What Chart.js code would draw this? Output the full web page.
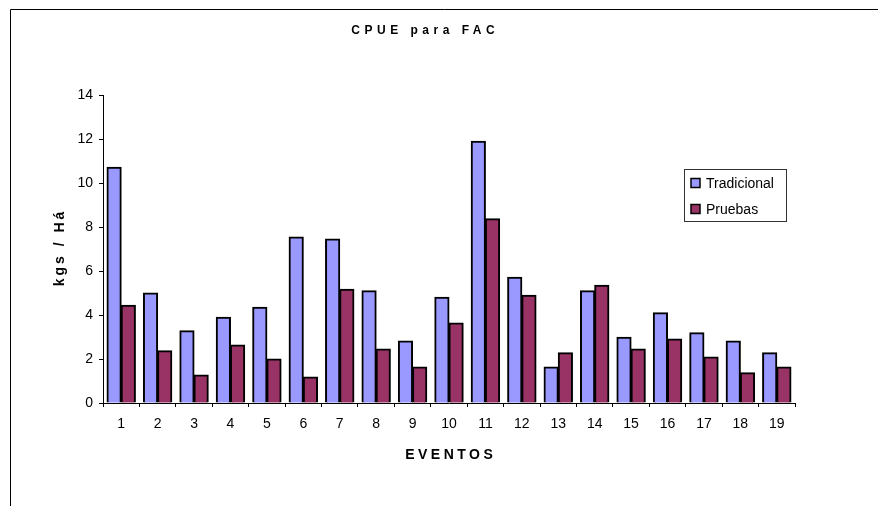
<!DOCTYPE html>
<html>
<head>
<meta charset="utf-8">
<script src="https://cdn.jsdelivr.net/npm/chart.js@4.4.1/dist/chart.umd.min.js"></script>
<style>
  html, body { margin: 0; padding: 0; background: #fff; }
  #wrap { width: 878px; height: 506px; position: relative; }
</style>
</head>
<body>
<div id="wrap"><canvas id="c" width="878" height="506"></canvas></div>
<script>
const categories = ['1','2','3','4','5','6','7','8','9','10','11','12','13','14','15','16','17','18','19'];
const tradicional = [10.72, 5.0, 3.28, 3.9, 4.35, 7.55, 7.45, 5.1, 2.82, 4.81, 11.9, 5.72, 1.64, 5.1, 2.99, 4.1, 3.19, 2.82, 2.28];
const pruebas = [4.44, 2.37, 1.27, 2.64, 2.0, 1.18, 5.17, 2.46, 1.64, 3.64, 8.37, 4.9, 2.28, 5.35, 2.46, 2.91, 2.09, 1.37, 1.64];
const seriesNames = ['Tradicional', 'Pruebas'];
const chartTitle = 'CPUE para FAC';
const xTitle = 'EVENTOS';
const yTitle = 'kgs / Há';

const FONT = "'Liberation Sans', Arial, sans-serif";

function spacedText(ctx, text, x, y, spacing) {
  if ('letterSpacing' in ctx) {
    ctx.letterSpacing = spacing + 'px';
    const w = ctx.measureText(text).width - spacing;
    ctx.textAlign = 'left';
    ctx.fillText(text, x - w / 2, y);
    ctx.letterSpacing = '0px';
  } else {
    ctx.textAlign = 'center';
    ctx.fillText(text, x, y);
  }
}

const framePlugin = {
  id: 'frame',
  beforeDraw(chart) {
    const ctx = chart.ctx;
    ctx.save();
    ctx.fillStyle = '#fff';
    ctx.fillRect(0, 0, chart.width, chart.height);
    ctx.strokeStyle = '#000';
    ctx.lineWidth = 1;
    ctx.beginPath();
    ctx.moveTo(10.5, chart.height);
    ctx.lineTo(10.5, 9.5);
    ctx.lineTo(chart.width, 9.5);
    ctx.stroke();
    ctx.fillStyle = '#000';
    ctx.textBaseline = 'middle';
    // chart title
    ctx.font = 'bold 12px ' + FONT;
    spacedText(ctx, chartTitle, 423, 31, 4.5);
    // x axis title
    const ca = chart.chartArea;
    ctx.font = 'bold 14px ' + FONT;
    spacedText(ctx, xTitle, (ca.left + ca.right) / 2, 455, 3.5);
    // y axis title
    ctx.save();
    ctx.translate(60, (ca.top + ca.bottom) / 2);
    ctx.rotate(-Math.PI / 2);
    ctx.font = 'bold 14px ' + FONT;
    spacedText(ctx, yTitle, 0, 0, 3);
    ctx.restore();
    ctx.restore();
  },
  afterDraw(chart) {
    const ctx = chart.ctx;
    ctx.save();
    const x0 = 684, y0 = 169, w = 102, h = 52;
    ctx.fillStyle = '#fff';
    ctx.fillRect(x0, y0, w, h);
    ctx.strokeStyle = '#333';
    ctx.lineWidth = 1;
    ctx.strokeRect(x0 + 0.5, y0 + 0.5, w, h);
    ctx.font = '14px ' + FONT;
    ctx.textAlign = 'left';
    ctx.textBaseline = 'middle';
    chart.data.datasets.forEach((ds, i) => {
      const cy = 183 + i * 26;
      ctx.fillStyle = ds.backgroundColor;
      ctx.fillRect(691, cy - 4.5, 9, 9);
      ctx.strokeStyle = '#000';
      ctx.lineWidth = 1.5;
      ctx.strokeRect(691, cy - 4.5, 9, 9);
      ctx.fillStyle = '#000';
      ctx.fillText(ds.label, 706, cy + 1);
    });
    ctx.restore();
  }
};

new Chart(document.getElementById('c'), {
  type: 'bar',
  data: {
    labels: categories,
    datasets: [
      { label: seriesNames[0], data: tradicional, backgroundColor: '#9999FF', borderColor: '#000', borderWidth: 2, inflateAmount: 0.5 },
      { label: seriesNames[1], data: pruebas, backgroundColor: '#993366', borderColor: '#000', borderWidth: 2, inflateAmount: 0.5 }
    ]
  },
  options: {
    responsive: false,
    animation: false,
    devicePixelRatio: 1,
    categoryPercentage: 0.78,
    barPercentage: 1.0,
    layout: { padding: { left: 40, top: 95, right: 83, bottom: 43 } },
    plugins: {
      legend: { display: false },
      title: { display: false },
      tooltip: { enabled: false }
    },
    scales: {
      x: {
        grid: { offset: true, drawOnChartArea: false, drawTicks: true, tickLength: 4, color: '#000' },
        border: { display: true, color: '#000', width: 1 },
        ticks: { color: '#000', font: { family: FONT, size: 14 }, padding: 9, maxRotation: 0 },
        title: { display: false },
        afterFit(scale) { scale.height = 60; }
      },
      y: {
        min: 0, max: 14,
        ticks: { stepSize: 2, color: '#000', font: { family: FONT, size: 14 }, padding: 6 },
        grid: { drawOnChartArea: false, drawTicks: true, tickLength: 4, color: '#000' },
        border: { display: true, color: '#000', width: 1 },
        title: { display: false },
        afterFit(scale) { scale.width = 63; }
      }
    }
  },
  plugins: [framePlugin]
});
</script>
</body>
</html>
